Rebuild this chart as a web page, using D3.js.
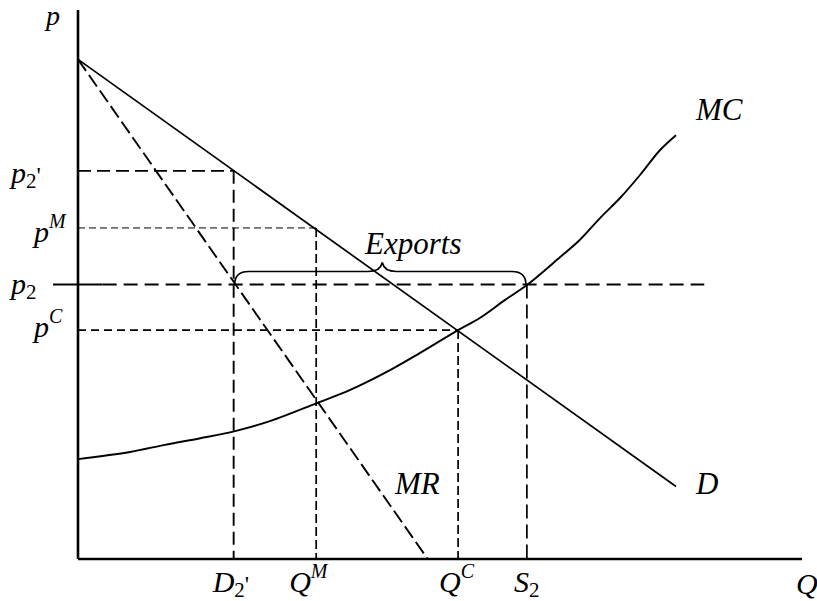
<!DOCTYPE html>
<html>
<head>
<meta charset="utf-8">
<script src="https://cdn.jsdelivr.net/npm/d3@7"></script>
<style>
  body { margin: 0; background: #fff; }
  text { font-family: "Liberation Serif", "Times New Roman", serif; font-style: italic; fill: #000; }
</style>
</head>
<body>
<div id="wrapper"></div>
<script>
// quantities and prices in arbitrary units (0..100 on both axes)
const demand = [{q: 0, p: 91}, {q: 82.6, p: 13.2}];
const marginalRevenue = [{q: 0, p: 91}, {q: 48.3, p: 0}];
const marginalCost = [
	{q: 0, p: 18.2}, {q: 7.2, p: 19.5}, {q: 12.0, p: 20.8}, {q: 16.9, p: 22.0},
	{q: 21.7, p: 23.3}, {q: 26.5, p: 25.1}, {q: 33.0, p: 28.4}, {q: 37.6, p: 30.8},
	{q: 43.1, p: 34.4}, {q: 47.2, p: 37.5}, {q: 52.5, p: 41.7}, {q: 55.5, p: 43.9},
	{q: 59.0, p: 47.2}, {q: 62.0, p: 49.9}, {q: 66.6, p: 55.0}, {q: 69.3, p: 58.1},
	{q: 72.1, p: 62.1}, {q: 74.9, p: 65.8}, {q: 77.6, p: 69.9}, {q: 80.4, p: 74.5},
	{q: 82.6, p: 77.2}
];
const priceLevels = {p2prime: 70.7, pM: 60.3, p2: 50, pC: 41.7};
const quantityLevels = {d2prime: 21.5, qM: 32.9, qC: 52.5, s2: 62.0};
const worldPriceEnd = 86.5;

const width = 817;
const height = 601;

const svg = d3.select("#wrapper")
	.append("svg")
	.attr("width", width)
	.attr("height", height);

const x = d3.scaleLinear().domain([0, 100]).range([78, 802]);
const y = d3.scaleLinear().domain([0, 100]).range([559, 10]);

const line = d3.line().x(d => x(d.q)).y(d => y(d.p));

// guide lines
function guide(x1, y1, x2, y2, dash, w) {
	svg.append("line")
		.attr("x1", x(x1)).attr("y1", y(y1))
		.attr("x2", x(x2)).attr("y2", y(y2))
		.attr("stroke", "#000")
		.attr("stroke-width", w)
		.attr("stroke-dasharray", dash);
}
guide(0, priceLevels.p2prime, quantityLevels.d2prime, priceLevels.p2prime, "13,6", 1.9);
guide(quantityLevels.d2prime, priceLevels.p2prime, quantityLevels.d2prime, 0, "13,6", 1.9);
guide(0, priceLevels.pM, quantityLevels.qM, priceLevels.pM, "7,4", 1);
guide(quantityLevels.qM, priceLevels.pM, quantityLevels.qM, 0, "9,4", 1.7);
guide(3.4, priceLevels.p2, worldPriceEnd, priceLevels.p2, "14,7", 1.9);
guide(0, priceLevels.pC, quantityLevels.qC, priceLevels.pC, "8,5", 1.7);
guide(quantityLevels.qC, priceLevels.pC, quantityLevels.qC, 0, "9,4", 1.7);
guide(quantityLevels.s2, priceLevels.p2, quantityLevels.s2, 0, "14,6", 1.7);

// solid stub of world price line crossing the axis
svg.append("line")
	.attr("x1", x(0) - 25).attr("x2", x(3.4))
	.attr("y1", y(priceLevels.p2)).attr("y2", y(priceLevels.p2))
	.attr("stroke", "#000").attr("stroke-width", 1.9);

// curves
svg.append("path").datum(demand)
	.attr("d", line).attr("fill", "none")
	.attr("stroke", "#000").attr("stroke-width", 1.7);

svg.append("path").datum(marginalRevenue)
	.attr("d", line).attr("fill", "none")
	.attr("stroke", "#000").attr("stroke-width", 1.9)
	.attr("stroke-dasharray", "14,5");

svg.append("path").datum(marginalCost)
	.attr("d", line.curve(d3.curveCatmullRom)).attr("fill", "none")
	.attr("stroke", "#000").attr("stroke-width", 1.9);

// axes
svg.append("line")
	.attr("x1", x(0)).attr("x2", x(0))
	.attr("y1", y(100)).attr("y2", y(0))
	.attr("stroke", "#000").attr("stroke-width", 2.6);
svg.append("line")
	.attr("x1", x(0)).attr("x2", x(100))
	.attr("y1", y(0)).attr("y2", y(0))
	.attr("stroke", "#000").attr("stroke-width", 2.6);

// export brace between D2' and S2
const bx0 = x(quantityLevels.d2prime) + 1;
const bx1 = x(quantityLevels.s2) - 1;
const by = y(priceLevels.p2);
const bm = (x(quantityLevels.d2prime) + x(quantityLevels.s2)) / 2 + 2;
const braceTop = by - 13;
svg.append("path")
	.attr("d",
		`M${bx0},${by} Q${bx0},${braceTop} ${bx0 + 14},${braceTop} L${bm - 14},${braceTop} ` +
		`Q${bm - 2},${braceTop} ${bm},${braceTop - 9} Q${bm + 2},${braceTop} ${bm + 14},${braceTop} ` +
		`L${bx1 - 14},${braceTop} Q${bx1},${braceTop} ${bx1},${by}`)
	.attr("fill", "none").attr("stroke", "#000").attr("stroke-width", 1.7);

svg.append("text").attr("x", bm + 31).attr("y", by - 31)
	.attr("text-anchor", "middle").attr("font-size", 31).text("Exports");

// labels
function label(px, py, main, sub, sup, prime, size) {
	const t = svg.append("text").attr("x", px).attr("y", py).attr("font-size", size || 30);
	t.append("tspan").text(main);
	if (sub) t.append("tspan").attr("font-size", 21).attr("font-style", "normal")
		.attr("dy", 5).text(sub);
	if (sup) t.append("tspan").attr("font-size", 20).attr("dy", -14).text(sup);
	if (prime) t.append("tspan").attr("font-size", 24).attr("font-style", "normal")
		.attr("dy", sub ? -5 : 0).text("'");
	return t;
}

label(x(0) - 32, 25, "p", null, null, false, 28);
label(11, y(priceLevels.p2prime) + 12, "p", "2", null, true);
label(34, y(priceLevels.pM) + 14, "p", null, "M");
label(11, y(priceLevels.p2) + 9, "p", "2");
label(34, y(priceLevels.pC) + 7, "p", null, "C");

label(x(quantityLevels.d2prime) - 21, 592, "D", "2", null, true);
label(x(quantityLevels.qM) - 27, 592, "Q", null, "M");
label(x(quantityLevels.qC) - 19, 592, "Q", null, "C");
label(x(quantityLevels.s2) - 13, 592, "S", "2");
label(796, 594, "Q");

svg.append("text").attr("x", 696).attr("y", 120).attr("font-size", 31).text("MC");
svg.append("text").attr("x", 696).attr("y", 494).attr("font-size", 31).text("D");
svg.append("text").attr("x", 395).attr("y", 494).attr("font-size", 31).text("MR");
</script>
</body>
</html>
